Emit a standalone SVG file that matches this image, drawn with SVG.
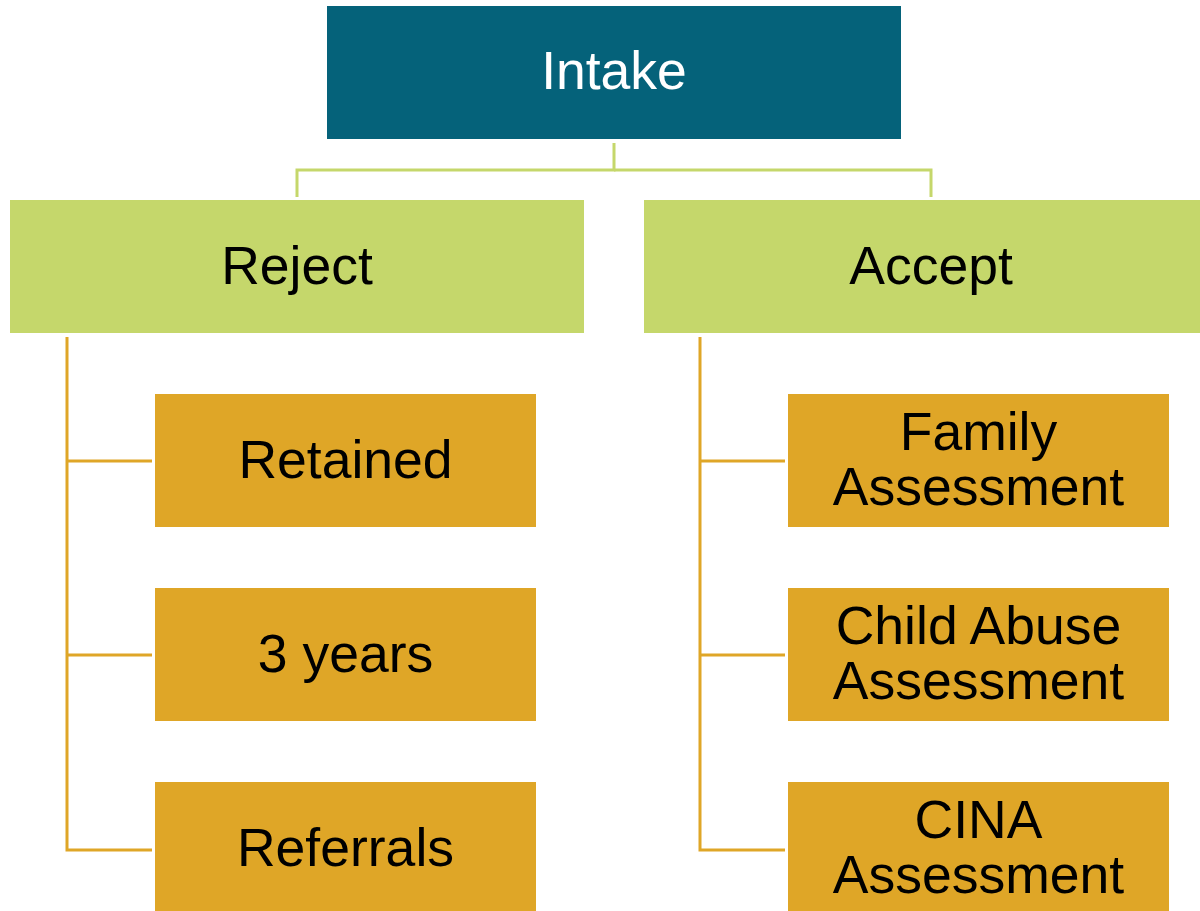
<svg xmlns="http://www.w3.org/2000/svg" width="1200" height="911" viewBox="0 0 1200 911">
<style>
.t{font-family:"Liberation Sans",Arial,sans-serif;text-anchor:middle;fill:#000;font-size:53.5px}
.w{fill:#fff}
.top{fill:#05627A}
.mid{fill:#C5D76B}
.leaf{fill:#DFA627}
.cg{fill:none;stroke:#C5D76B;stroke-width:3}
.co{fill:none;stroke:#DFA627;stroke-width:3}
</style>
<rect width="1200" height="911" fill="#fff"/>
<g id="connectors">
<polyline class="cg" points="614,143 614,170 297,170 297,197"/>
<polyline class="cg" points="614,170 931,170 931,197"/>
<polyline class="co" points="67,337 67,850 152,850"/>
<line class="co" x1="67" y1="461" x2="152" y2="461"/>
<line class="co" x1="67" y1="655" x2="152" y2="655"/>
<polyline class="co" points="700,337 700,850 785,850"/>
<line class="co" x1="700" y1="461" x2="785" y2="461"/>
<line class="co" x1="700" y1="655" x2="785" y2="655"/>
</g>
<g id="intake"><rect class="top" x="327" y="6" width="574" height="133"/><text class="t w" x="614" y="89">Intake</text></g>
<g id="reject"><rect class="mid" x="10" y="200" width="574" height="133"/><text class="t" x="297" y="284">Reject</text></g>
<g id="accept"><rect class="mid" x="644" y="200" width="574" height="133"/><text class="t" x="931" y="284">Accept</text></g>
<g id="retained"><rect class="leaf" x="155" y="394" width="381" height="133"/><text class="t" x="345.5" y="478">Retained</text></g>
<g id="years"><rect class="leaf" x="155" y="588" width="381" height="133"/><text class="t" x="345.5" y="672">3 years</text></g>
<g id="referrals"><rect class="leaf" x="155" y="782" width="381" height="133"/><text class="t" x="345.5" y="866">Referrals</text></g>
<g id="family"><rect class="leaf" x="788" y="394" width="381" height="133"/><text class="t" x="978.5" y="450">Family</text><text class="t" x="978.5" y="505">Assessment</text></g>
<g id="childabuse"><rect class="leaf" x="788" y="588" width="381" height="133"/><text class="t" x="978.5" y="644">Child Abuse</text><text class="t" x="978.5" y="699">Assessment</text></g>
<g id="cina"><rect class="leaf" x="788" y="782" width="381" height="133"/><text class="t" x="978.5" y="838">CINA</text><text class="t" x="978.5" y="893">Assessment</text></g>
</svg>
